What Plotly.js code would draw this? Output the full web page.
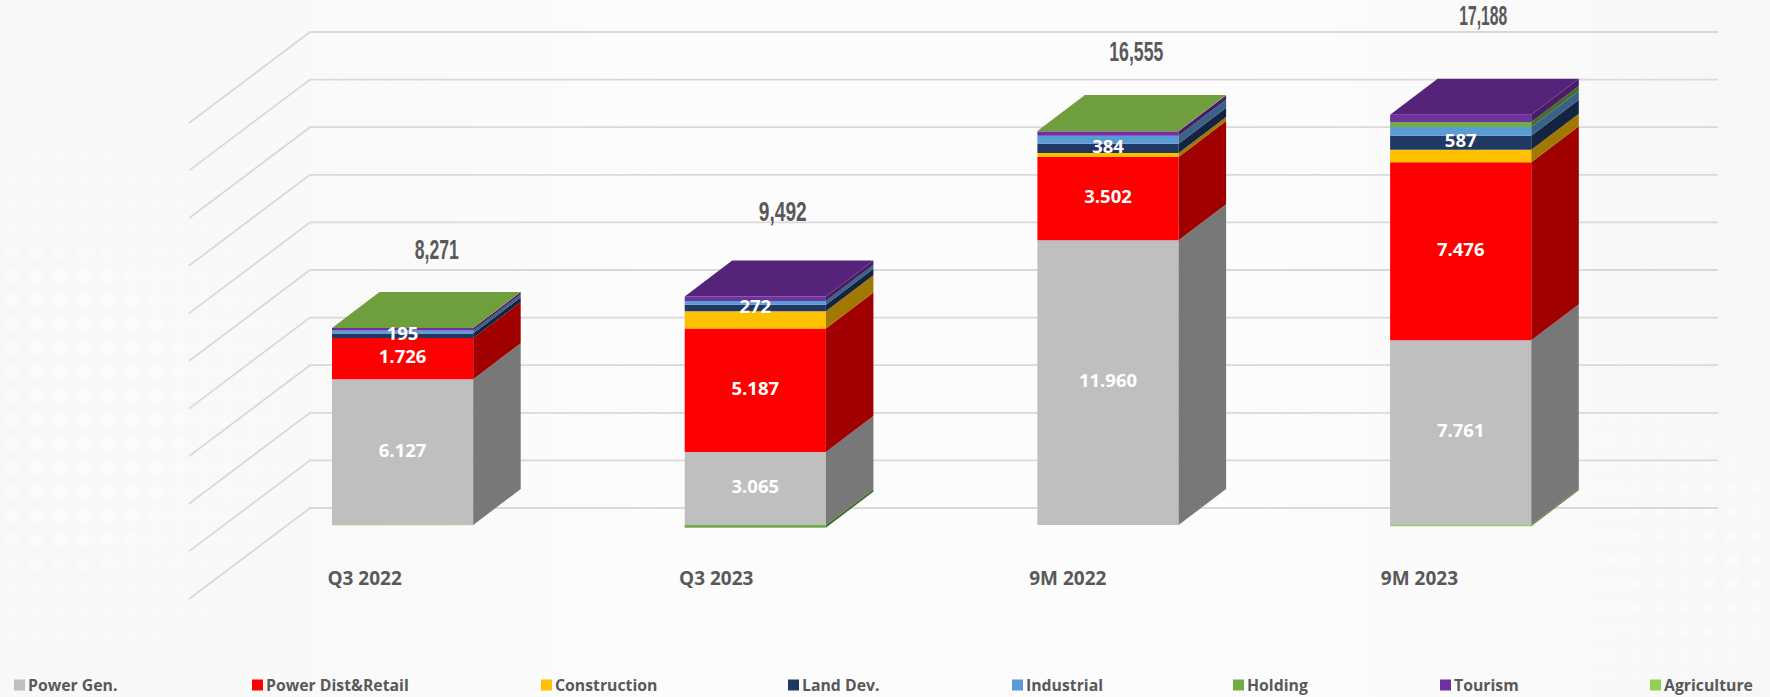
<!DOCTYPE html>
<html><head><meta charset="utf-8">
<script src="https://cdn.plot.ly/plotly-3.0.1.min.js"></script>
<style>
html,body{margin:0;padding:0;width:1770px;height:697px;overflow:hidden;
background:linear-gradient(90deg,#f8f8f8 0%,#f9f9f9 18%,#fdfcfd 38%,#fdfcfd 70%,#fafafa 85%,#f7f7f7 100%);}
#c{position:absolute;left:0;top:0;width:1770px;height:697px;}
.dots{position:absolute;opacity:.5;background-image:radial-gradient(circle at center,#ffffff 0,#ffffff 22%,rgba(255,255,255,0) 55%);background-size:24px 24px;}
#d1{left:0;top:120px;width:300px;height:520px;-webkit-mask-image:radial-gradient(ellipse at 20% 55%,#000 30%,transparent 72%);}
#d2{left:1480px;top:380px;width:290px;height:300px;-webkit-mask-image:radial-gradient(ellipse at 70% 60%,#000 20%,transparent 72%);}
</style></head><body><div class="dots" id="d1"></div><div class="dots" id="d2"></div><div id="c"></div>
<script>
// ---- data ----
const categories = ["Q3 2022","Q3 2023","9M 2022","9M 2023"];
const totals = [8271,9492,16555,17188];
const seriesNames = ["Power Gen.","Power Dist&Retail","Construction","Land Dev.","Industrial","Holding","Tourism","Agriculture"];
const powerGen   = [6127,3065,11960,7761];
const powerDist  = [1726,5187,3502,7476];
const construction = [-10,730,170,532];
const landDev    = [195,272,384,587];
const industrial = [125,155,335,364];
const holding    = [0,-112,0,210];
const tourism    = [100,195,195,308];
const agriculture = [8,0,9,-50];
const yTicks = [0,2000,4000,6000,8000,10000,12000,14000,16000,18000,20000];
const seriesColors = ["#BFBFBF","#FF0000","#FFC000","#1F3864","#5B9BD5","#70AD47","#7030A0","#92D050"];
const labelledSeries = [0,1,3];

// ---- geometry of the oblique projection ----
const W=1770,H=697;
const cx0=402.6, baseY=525;
const pxPerCat=352.7, pxPerUnit=0.0238;
const xRange=[-cx0/pxPerCat,(W-cx0)/pxPerCat];
const yRange=[-(H-baseY)/pxPerUnit,baseY/pxPerUnit];
const barW=141.2/pxPerCat;
const depthX=47.5/pxPerCat, depthY=36/pxPerUnit;
const wallLift=17/pxPerUnit, floorDrop=74/pxPerUnit;
const gridFrontX=(189-cx0)/pxPerCat, gridBackX=(310-cx0)/pxPerCat, gridRightX=(1718-cx0)/pxPerCat;
const totalDx=[34,28,28,23].map(v=>v/pxPerCat);
const totalLift=[78,87,79,99.5].map(v=>v/pxPerUnit);
const totalWidths=[44,48,54,48];

const allSeries=[powerGen,powerDist,construction,landDev,industrial,holding,tourism,agriculture];
const idx=categories.map((_,i)=>i);

function shade(hex,k){
  const n=parseInt(hex.slice(1),16);
  return "rgb("+[(n>>16)&255,(n>>8)&255,n&255].map(c=>Math.round(c*k)).join(",")+")";
}
function dotted(v){return String(v).replace(/\B(?=(\d{3})+$)/g,".");}
function commas(v){return String(v).replace(/\B(?=(\d{3})+$)/g,",");}

// stack limits, positive up and negative down, like barmode "relative"
const spans=allSeries.map(()=>[]);
idx.forEach(i=>{
  let up=0,down=0;
  allSeries.forEach((s,k)=>{
    const v=s[i];
    if(v>=0){spans[k][i]=[up,up+v];up+=v;}
    else{spans[k][i]=[down+v,down];down+=v;}
  });
});

const traces=[];
// front faces
allSeries.forEach((s,k)=>traces.push({
  type:"bar",name:seriesNames[k],x:idx,y:s,width:barW,
  marker:{color:seriesColors[k],line:{width:0}},hoverinfo:"name+y",showlegend:false
}));
// side faces
allSeries.forEach((s,k)=>{
  const xs=[],ys=[];
  idx.forEach(i=>{
    const [a,b]=spans[k][i];
    if(a===b)return;
    const x0=i+barW/2,x1=x0+depthX;
    xs.push(x0,x1,x1,x0,x0,null);
    ys.push(a,a+depthY,b+depthY,b,a,null);
  });
  traces.push({type:"scatter",mode:"lines",x:xs,y:ys,fill:"toself",
    fillcolor:shade(seriesColors[k],0.63),line:{width:0},hoverinfo:"skip",showlegend:false});
});
// top faces take the colour of the top-most positive series
idx.forEach(i=>{
  let k=allSeries.length-1;
  while(allSeries[k][i]<=0)k--;
  const t=spans[k][i][1],l=i-barW/2,r=i+barW/2;
  traces.push({type:"scatter",mode:"lines",
    x:[l,r,r+depthX,l+depthX,l],y:[t,t,t+depthY,t+depthY,t],fill:"toself",
    fillcolor:shade(seriesColors[k],0.76),line:{width:0},hoverinfo:"skip",showlegend:false});
});
// value labels
const lx=[],ly=[],lt=[];
labelledSeries.forEach(k=>idx.forEach(i=>{
  lx.push(i);ly.push((spans[k][i][0]+spans[k][i][1])/2);lt.push(dotted(allSeries[k][i]));
}));
traces.push({type:"scatter",mode:"text",x:lx,y:ly,text:lt,textposition:"middle center",
  textfont:{family:"Open Sans",size:18.5,color:"#FFFFFF",weight:700},hoverinfo:"skip",showlegend:false});

// gridlines: floor/side stroke plus back wall stroke
const shapes=yTicks.map(t=>{
  const path=[[gridFrontX,t-floorDrop],[gridBackX,t+wallLift],[gridRightX,t+wallLift]];
  return {type:"path",xref:"x",yref:"y",layer:"below",
    path:"M"+path.map(p=>p[0]+","+p[1]).join(" L"),
    line:{color:"#D9D9D9",width:1.8}};
});

// totals
const annotations=idx.map(i=>({
  xref:"x",yref:"y",x:i+totalDx[i],y:totals[i]+totalLift[i],text:commas(totals[i]),showarrow:false,
  xanchor:"center",yanchor:"middle",
  font:{family:"Liberation Sans",size:27,color:"#595959",weight:700}
}));

// legend row
const legendMarkX=[14,252,541,788,1012,1233,1440,1650];
const legendY=685;
seriesNames.forEach((n,k)=>{
  shapes.push({type:"rect",xref:"paper",yref:"paper",
    x0:legendMarkX[k]/W,x1:(legendMarkX[k]+11)/W,y0:1-(legendY+5.5)/H,y1:1-(legendY-5.5)/H,
    fillcolor:seriesColors[k],line:{width:0}});
  annotations.push({xref:"paper",yref:"paper",x:(legendMarkX[k]+15)/W,y:1-legendY/H,text:n,showarrow:false,
    xanchor:"left",yanchor:"middle",xshift:-3,
    font:{family:"Open Sans",size:15.8,color:"#595959",weight:700}});
});

const layout={
  width:W,height:H,margin:{l:0,r:0,t:0,b:0},barmode:"relative",
  paper_bgcolor:"rgba(0,0,0,0)",plot_bgcolor:"rgba(0,0,0,0)",showlegend:false,
  xaxis:{range:xRange,showgrid:false,zeroline:false,showline:false,fixedrange:true,
    tickmode:"array",tickvals:idx.map(i=>i*351.6/pxPerCat),ticktext:categories,ticks:"",anchor:"free",position:1-565/H,
    ticklabelshift:-38,tickfont:{family:"Open Sans",size:19,color:"#595959",weight:700}},
  yaxis:{range:yRange,visible:false,fixedrange:true},
  shapes,annotations
};
Plotly.newPlot("c",traces,layout,{displayModeBar:false,staticPlot:true}).then(()=>{
  // the reference's totals use a tall, condensed face: squeeze the real text to that width
  const texts=document.querySelectorAll("#c .annotation-text");
  idx.forEach(i=>{
    if(texts[i]){
      texts[i].setAttribute("textLength",totalWidths[i]);
      texts[i].setAttribute("lengthAdjust","spacingAndGlyphs");
    }
  });
});
</script></body></html>
